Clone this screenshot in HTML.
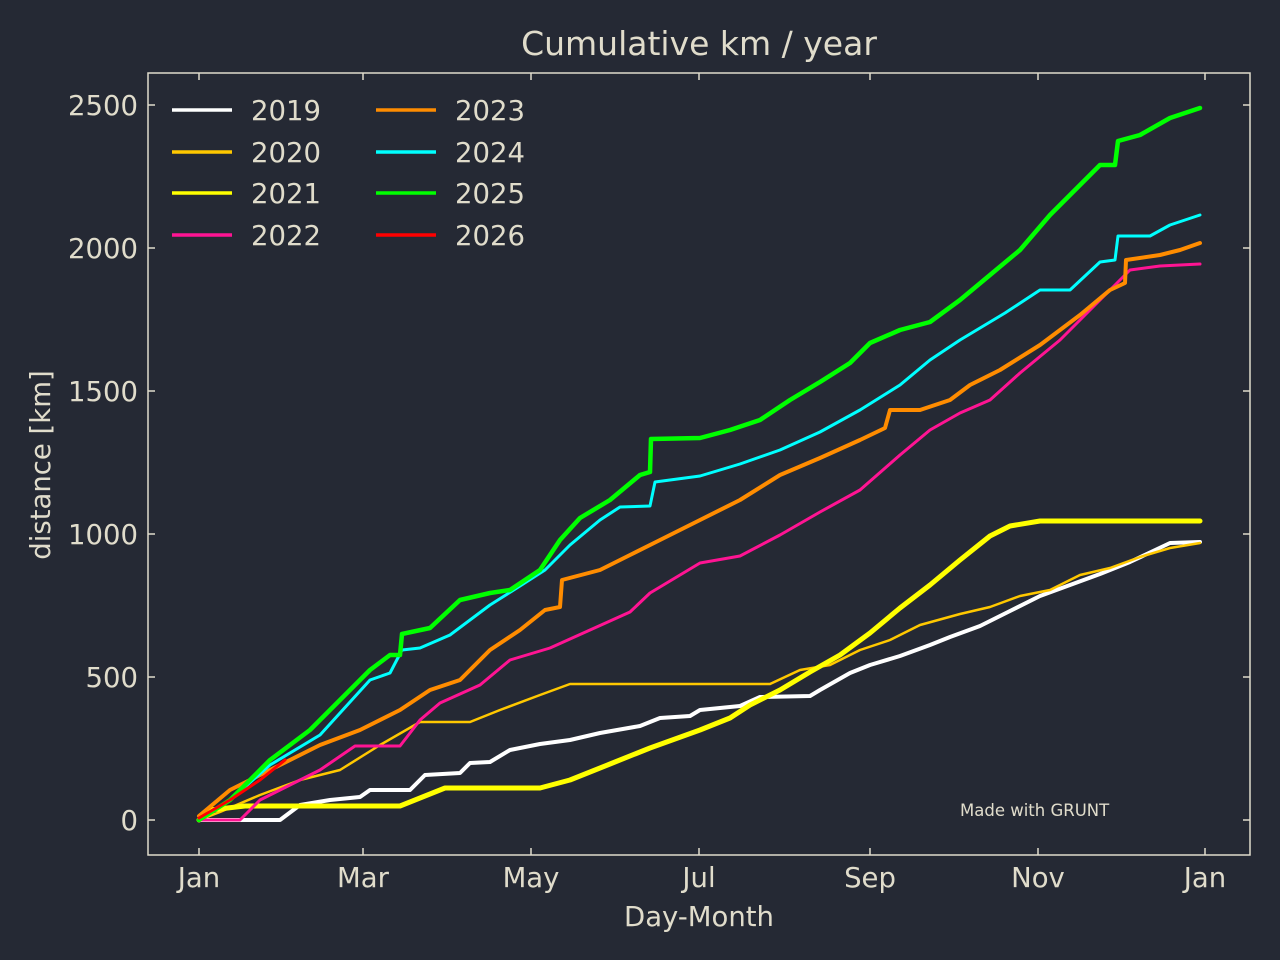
<!DOCTYPE html>
<html><head><meta charset="utf-8"><style>
html,body{margin:0;padding:0;background:#252934;}
svg{display:block;font-family:"DejaVu Sans","Liberation Sans",sans-serif;}
</style></head><body>
<svg width="1280" height="960" viewBox="0 0 1280 960" xmlns="http://www.w3.org/2000/svg">
<rect width="1280" height="960" fill="#252934"/>
<g fill="none" stroke-linejoin="round" stroke-linecap="round">
<polyline stroke="#ffffff" stroke-width="4" points="199,820 280,820 300,805 330,800 360,797 370,790 410,790 425,775 460,773 470,763 490,762 510,750 540,744 570,740 600,733 640,726 660,718 690,716 700,710 740,706 760,697 810,696 820,690 850,673 870,665 900,656 930,645 950,637 980,626 1010,611 1040,596 1070,585 1100,574 1130,562 1170,543 1200,542"/>
<polyline stroke="#ffc800" stroke-width="2.5" points="199,820 220,812 260,795 300,780 340,770 380,745 420,722 470,722 500,710 540,695 570,684 770,684 800,670 830,665 860,650 890,640 920,625 960,614 990,607 1020,596 1050,590 1080,575 1110,568 1140,557 1170,548 1200,543"/>
<polyline stroke="#ffff00" stroke-width="5" points="199,820 210,810 245,806 290,806 400,806 445,788 540,788 570,780 610,764 650,748 700,730 730,718 750,705 780,690 810,672 840,655 870,633 900,608 930,585 960,560 990,536 1010,526 1040,521 1200,521"/>
<polyline stroke="#ff1493" stroke-width="3" points="199,820 240,820 260,800 290,785 320,770 355,746 400,746 420,720 440,703 480,685 510,660 550,648 590,630 630,612 650,593 700,563 740,556 780,535 820,512 860,490 900,455 930,430 960,413 990,400 1020,373 1060,340 1090,310 1130,270 1160,266 1200,264"/>
<polyline stroke="#ff8c00" stroke-width="4" points="199,816 230,790 270,770 320,745 360,730 400,710 430,690 460,680 490,650 520,630 545,610 560,607 562,580 600,570 630,555 660,540 700,520 740,500 780,475 820,458 860,440 885,428 890,410 920,410 950,400 970,385 1000,370 1040,345 1080,315 1110,290 1125,283 1126,260 1160,255 1180,250 1200,243"/>
<polyline stroke="#00ffff" stroke-width="3" points="199,820 230,800 270,765 320,735 370,680 390,673 402,650 420,648 450,635 490,605 520,586 545,570 570,545 600,520 620,507 650,506 655,482 700,476 740,464 780,450 820,432 860,410 900,385 930,360 960,340 980,328 1005,313 1040,290 1070,290 1100,262 1115,260 1118,236 1150,236 1170,225 1200,215"/>
<polyline stroke="#00ff00" stroke-width="4.5" points="199,820 230,800 270,760 310,730 350,690 370,670 390,655 400,655 402,634 430,628 460,600 490,593 510,590 540,570 560,540 580,518 610,500 640,475 650,472 651,439 700,438 730,430 760,420 790,400 820,382 850,363 870,343 900,330 930,322 960,300 990,275 1020,250 1050,215 1080,185 1100,165 1115,165 1118,141 1140,135 1170,118 1200,108"/>
<polyline stroke="#ff0000" stroke-width="3" points="199,818 230,800 260,780 285,760"/>
</g>
<rect x="148" y="73" width="1102" height="782" fill="none" stroke="#e0dccb" stroke-width="1.5"/>
<g stroke="#e0dccb" stroke-width="1.5">
<path d="M199,855v-7M363,855v-7M531,855v-7M699,855v-7M870,855v-7M1038,855v-7M1205,855v-7M199,73v7M363,73v7M531,73v7M699,73v7M870,73v7M1038,73v7M1205,73v7"/>
<path d="M148,820h7M148,677h7M148,534h7M148,391h7M148,248h7M148,105h7M1250,820h-7M1250,677h-7M1250,534h-7M1250,391h-7M1250,248h-7M1250,105h-7"/>
</g>
<g fill="#e0dccb" font-size="27.5">
<g text-anchor="middle">
<text x="199" y="887">Jan</text><text x="363" y="887">Mar</text><text x="531" y="887">May</text><text x="699" y="887">Jul</text><text x="870" y="887">Sep</text><text x="1038" y="887">Nov</text><text x="1205" y="887">Jan</text>
<text x="699" y="926">Day-Month</text>
<text x="699" y="55" font-size="33">Cumulative km / year</text>
</g>
<g text-anchor="end">
<text x="138" y="830">0</text><text x="138" y="687">500</text><text x="138" y="544">1000</text><text x="138" y="401">1500</text><text x="138" y="258">2000</text><text x="138" y="115">2500</text>
</g>
<text transform="translate(50,465) rotate(-90)" text-anchor="middle">distance [km]</text>
<text x="960" y="816" font-size="16.5">Made with GRUNT</text>
<text x="251" y="120">2019</text><text x="251" y="162">2020</text><text x="251" y="203">2021</text><text x="251" y="245">2022</text>
<text x="455" y="120">2023</text><text x="455" y="162">2024</text><text x="455" y="203">2025</text><text x="455" y="245">2026</text>
</g>
<g stroke-width="3.5">
<line x1="172" y1="110" x2="232" y2="110" stroke="#ffffff"/>
<line x1="172" y1="152" x2="232" y2="152" stroke="#ffc800"/>
<line x1="172" y1="193" x2="232" y2="193" stroke="#ffff00"/>
<line x1="172" y1="235" x2="232" y2="235" stroke="#ff1493"/>
<line x1="376" y1="110" x2="436" y2="110" stroke="#ff8c00"/>
<line x1="376" y1="152" x2="436" y2="152" stroke="#00ffff"/>
<line x1="376" y1="193" x2="436" y2="193" stroke="#00ff00"/>
<line x1="376" y1="235" x2="436" y2="235" stroke="#ff0000"/>
</g>
</svg>
</body></html>
